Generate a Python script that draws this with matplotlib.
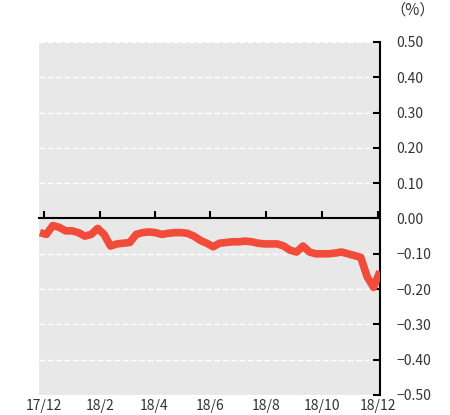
import numpy as np
import pandas as pd
import matplotlib
matplotlib.use("Agg")
import matplotlib.pyplot as plt

# weekly readings, late Nov 2017 to early Dec 2018 (%)
dates = pd.date_range("2017-11-27", periods=54, freq="7D")
values = [
    -0.040, -0.045, -0.020, -0.025, -0.035, -0.035, -0.040, -0.050, -0.045, -0.028,
    -0.045, -0.078, -0.072, -0.070, -0.068, -0.045, -0.040, -0.038, -0.040, -0.045,
    -0.042, -0.040, -0.040, -0.042, -0.050, -0.062, -0.070, -0.080, -0.070, -0.068,
    -0.066, -0.066, -0.064, -0.066, -0.070, -0.072, -0.072, -0.072, -0.078, -0.090,
    -0.095, -0.078, -0.095, -0.100, -0.100, -0.100, -0.098, -0.095, -0.100, -0.105,
    -0.110, -0.165, -0.195, -0.150,
]
tick_dates = pd.to_datetime(["2017-12-01", "2018-02-01", "2018-04-01", "2018-06-01",
                             "2018-08-01", "2018-10-01", "2018-12-01"])
tick_labels = ["17/12", "18/2", "18/4", "18/6", "18/8", "18/10", "18/12"]
y_ticks = np.round(np.arange(-0.5, 0.51, 0.1), 2) + 0.0

plt.rcParams['font.family'] = ['Noto Sans CJK JP', 'DejaVu Sans']

fig = plt.figure(figsize=(4.5, 4.15), dpi=100)
ax = fig.add_axes([0.0867, 0.0482, 0.7577, 0.8506])
ax.set_facecolor("#e8e8e8")

ax.plot(dates, values, color="#f24b39", lw=5.5, solid_capstyle="butt", zorder=3)

ax.set_xlim(pd.Timestamp("2017-11-26"), pd.Timestamp("2018-12-03"))
ax.set_ylim(-0.5, 0.5)

# grid
for y in y_ticks:
    if abs(y) > 1e-9:
        ax.axhline(y, color="white", lw=1, ls=(0, (4, 2)), zorder=1)

for s in ["left", "top"]:
    ax.spines[s].set_visible(False)
ax.spines["right"].set_color("black")
ax.spines["right"].set_linewidth(1.5)
ax.spines["bottom"].set_position(("data", 0))
ax.spines["bottom"].set_linewidth(1.5)

ax.yaxis.tick_right()
ax.set_yticks(y_ticks)
ax.set_yticklabels([f"{abs(v):.2f}" if abs(v) < 1e-9 else f"{v:.2f}".replace("-", "\u2212")
                    for v in y_ticks])
ax.tick_params(axis="y", direction="in", length=5, width=1.5, pad=12,
               labelsize=10, labelcolor="#333333")

ax.set_xticks(tick_dates)
ax.tick_params(axis="x", direction="in", length=5, width=1.5, labelbottom=False)

sec = ax.secondary_xaxis(0.0)
sec.set_xticks(tick_dates)
sec.set_xticklabels(tick_labels)
sec.spines["bottom"].set_visible(False)
sec.tick_params(length=0, pad=3, labelsize=10, labelcolor="#333333")

fig.text(0.967, 0.975, "（%）", ha="right", va="center", fontsize=11, color="#333333")

fig.savefig("out.png", dpi=100)
